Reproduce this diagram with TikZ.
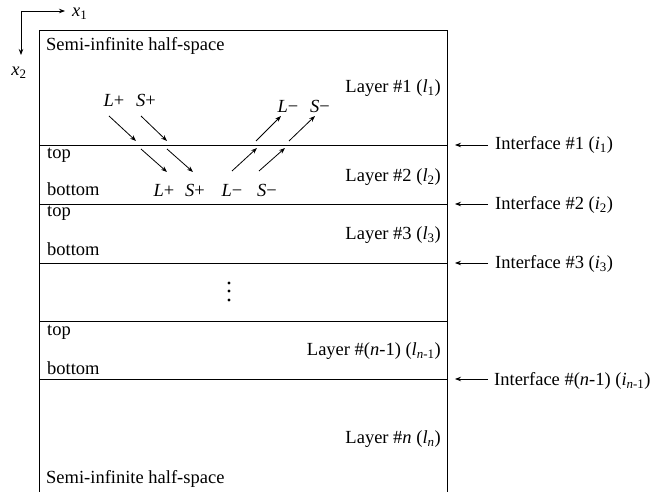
\documentclass[tikz,border=0pt]{standalone}
\usepackage{fontspec}
\setmainfont{Liberation Serif}
\usetikzlibrary{arrows.meta}
\begin{document}
\begin{tikzpicture}[x=1pt,y=-1pt,
  lbl/.style={inner sep=0pt,font=\fontsize{18.5}{20}\selectfont},
  arr/.style={line width=0.8pt,-{Stealth[length=6pt,width=4.5pt]}},
  boxline/.style={line width=0.8pt}]
\useasboundingbox (0,0) rectangle (662,492);
% axes
\coordinate (o) at (21,11);
\coordinate (ax1) at (65,11);
\coordinate (ax2) at (21,55);
\draw[arr] (o) -- (ax1);
\draw[arr] (o) -- (ax2);
\node[lbl,anchor=west] (x1) at (72,14) {\textit{x}\textsubscript{1}};
\node[lbl] (x2) at (19,73) {\textit{x}\textsubscript{2}};
% box
\draw[boxline] (39,492) -- (39,30) -- (447,30) -- (447,492);
\foreach \y/\n in {145/a,204/b,263/c,321/d,379/e}{
  \draw[boxline] (39,\y) -- (447,\y);
  \coordinate (if\n) at (455,\y);
  \coordinate (is\n) at (488,\y);
}
% texts
\node[lbl,anchor=west] (s1) at (46,46) {Semi-infinite half-space};
\node[lbl,anchor=east] (l1) at (441,88) {Layer \#1 (\textit{l}\textsubscript{1})};
\node[lbl,anchor=west] (t2) at (47,155) {top};
\node[lbl,anchor=west] (b2) at (47,189) {bottom};
\node[lbl,anchor=east] (l2) at (441,177) {Layer \#2 (\textit{l}\textsubscript{2})};
\node[lbl,anchor=west] (t3) at (47,213) {top};
\node[lbl,anchor=west] (b3) at (47,249) {bottom};
\node[lbl,anchor=east] (l3) at (441,235) {Layer \#3 (\textit{l}\textsubscript{3})};
\node[lbl,anchor=west] (t4) at (47,332) {top};
\node[lbl,anchor=west] (b4) at (47,368) {bottom};
\node[lbl,anchor=east] (l4) at (441,351) {Layer \#(\textit{n}-1) (\textit{l}\textsubscript{\textit{n}-1})};
\node[lbl,anchor=east] (l5) at (441,439) {Layer \#\textit{n} (\textit{l}\textsubscript{\textit{n}})};
\node[lbl,anchor=west] (s2) at (46,479) {Semi-infinite half-space};
% dots
\foreach \y in {283,291,300} \fill (229,\y) circle (1.6);
% interface labels
\node[lbl,anchor=west] (i1) at (495,145) {Interface \#1 (\textit{i}\textsubscript{1})};
\node[lbl,anchor=west] (i2) at (495,205) {Interface \#2 (\textit{i}\textsubscript{2})};
\node[lbl,anchor=west] (i3) at (495,264) {Interface \#3 (\textit{i}\textsubscript{3})};
\node[lbl,anchor=west] (i4) at (494,381) {Interface \#(\textit{n}-1) (\textit{i}\textsubscript{\textit{n}-1})};
\draw[arr] (isa) -- (ifa);
\draw[arr] (isb) -- (ifb);
\draw[arr] (isc) -- (ifc);
\draw[arr] (ise) -- (ife);
% wave labels
\node[lbl] (lp1) at (114,100) {\textit{L}+};
\node[lbl] (sp1) at (146,100) {\textit{S}+};
\node[lbl] (lm1) at (288,106) {\textit{L}−};
\node[lbl] (sm1) at (320,106) {\textit{S}−};
\node[lbl] (lp2) at (164,190) {\textit{L}+};
\node[lbl] (sp2) at (195,190) {\textit{S}+};
\node[lbl] (lm2) at (232,190) {\textit{L}−};
\node[lbl] (sm2) at (267,190) {\textit{S}−};
% wave arrows
\coordinate (a1s) at (109,116); \coordinate (a1e) at (136,141);
\coordinate (a2s) at (141,116); \coordinate (a2e) at (167,141);
\coordinate (a3s) at (141,149); \coordinate (a3e) at (167,172);
\coordinate (a4s) at (167,149); \coordinate (a4e) at (193,172);
\coordinate (a5s) at (232,171); \coordinate (a5e) at (257,148);
\coordinate (a6s) at (259,171); \coordinate (a6e) at (285,148);
\coordinate (a7s) at (256,141); \coordinate (a7e) at (281,116);
\coordinate (a8s) at (289,141); \coordinate (a8e) at (315,116);
\foreach \i in {1,...,8} \draw[arr] (a\i s) -- (a\i e);
\end{tikzpicture}
\end{document}
